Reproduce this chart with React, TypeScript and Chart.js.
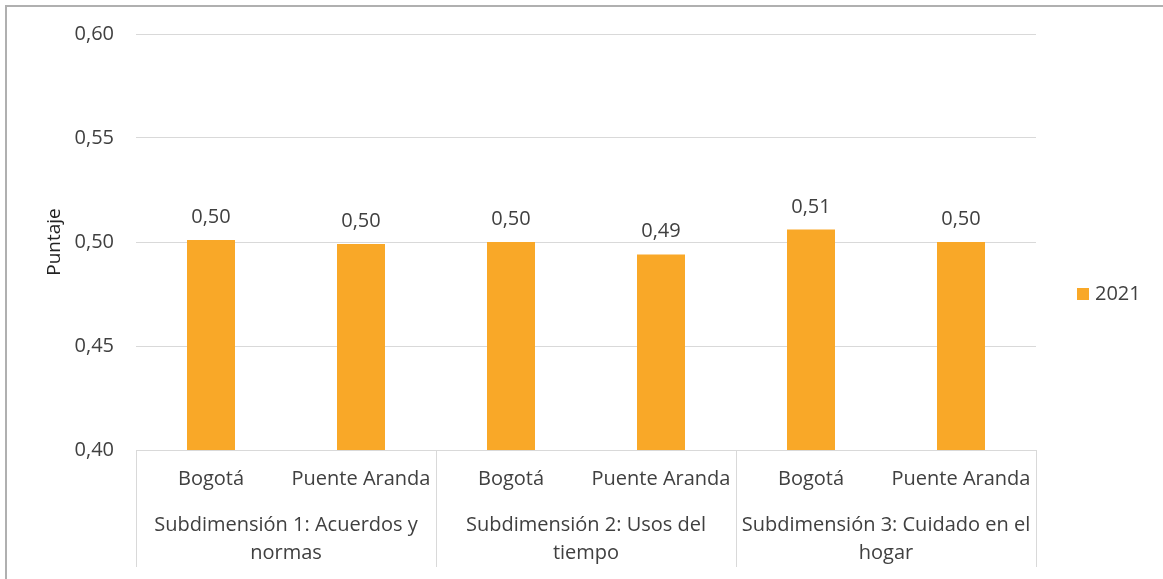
import React, { useEffect, useRef } from "react";
import { Chart, registerables } from "chart.js";

Chart.register(...registerables);

const categories = ["Bogotá", "Puente Aranda", "Bogotá", "Puente Aranda", "Bogotá", "Puente Aranda"];
const groups = [
  ["Subdimensión 1: Acuerdos y", "normas"],
  ["Subdimensión 2: Usos del", "tiempo"],
  ["Subdimensión 3: Cuidado en el", "hogar"],
];
const groupSize = 2;
const seriesLabel = "2021";
const values2021 = [0.501, 0.499, 0.5, 0.494, 0.506, 0.5];
const yTicks = [0.4, 0.45, 0.5, 0.55, 0.6];

const FONT = "'Open Sans', sans-serif";
const TEXT = "#404040";
const GRID = "#d9d9d9";
const BAR = "#F9A828";
const FS = 20;

const fmt = (v: number) => v.toFixed(2).replace(".", ",");

const customPlugin = {
  id: "custom",
  afterDatasetsDraw(chart: any) {
    const ctx = chart.ctx;
    const meta = chart.getDatasetMeta(0);
    ctx.save();
    ctx.font = `${FS}px ${FONT}`;
    ctx.fillStyle = TEXT;
    ctx.textAlign = "center";
    ctx.textBaseline = "alphabetic";
    meta.data.forEach((el: any, i: number) => {
      ctx.fillText(fmt(values2021[i]), el.x, el.y - 17);
    });
    ctx.restore();
  },
  afterDraw(chart: any) {
    const ctx = chart.ctx;
    const xs = chart.scales.x;
    const area = chart.chartArea;
    ctx.save();
    ctx.strokeStyle = GRID;
    ctx.lineWidth = 1;
    const bounds: number[] = [];
    for (let g = 0; g <= groups.length; g++) {
      const i = g * groupSize;
      let x: number;
      if (i === 0) x = xs.left;
      else if (i >= categories.length) x = xs.right;
      else x = (xs.getPixelForValue(i - 1) + xs.getPixelForValue(i)) / 2;
      bounds.push(x);
      const xx = Math.round(x) + 0.5;
      ctx.beginPath();
      ctx.moveTo(xx, area.bottom);
      ctx.lineTo(xx, 567);
      ctx.stroke();
    }
    ctx.font = `${FS}px ${FONT}`;
    ctx.fillStyle = TEXT;
    ctx.textAlign = "center";
    ctx.textBaseline = "middle";
    groups.forEach((lines, g) => {
      const cx = (bounds[g] + bounds[g + 1]) / 2;
      lines.forEach((ln, k) => {
        ctx.fillText(ln, cx, 525 + k * 28);
      });
    });
    const ds = chart.data.datasets[0];
    ctx.fillStyle = ds.backgroundColor;
    ctx.fillRect(1077, 288, 12, 12);
    ctx.fillStyle = TEXT;
    ctx.textAlign = "left";
    ctx.textBaseline = "middle";
    ctx.fillText(ds.label, 1095, 294);
    ctx.restore();
  },
};

export default function App() {
  const ref = useRef<HTMLCanvasElement>(null);
  useEffect(() => {
    const chart = new Chart(ref.current!, {
      type: "bar",
      data: {
        labels: categories,
        datasets: [
          {
            label: seriesLabel,
            data: values2021,
            backgroundColor: BAR,
            categoryPercentage: 1,
            barPercentage: 0.32,
          },
        ],
      },
      options: {
        animation: false,
        responsive: false,
        maintainAspectRatio: false,
        layout: { padding: { top: 34, right: 127, left: 0, bottom: 0 } },
        plugins: {
          legend: { display: false },
          tooltip: { enabled: false },
        },
        scales: {
          x: {
            grid: { display: false, drawTicks: false },
            border: { display: true, color: GRID },
            ticks: {
              autoSkip: false,
              maxRotation: 0,
              minRotation: 0,
              padding: 17,
              color: TEXT,
              font: { family: FONT, size: FS },
            },
            afterFit: (s: any) => {
              s.height = 129;
            },
          },
          y: {
            min: 0.4,
            max: 0.6,
            afterBuildTicks: (s: any) => {
              s.ticks = yTicks.map((v) => ({ value: v }));
            },
            grid: { color: GRID, drawTicks: false },
            border: { display: false },
            ticks: {
              padding: 22,
              color: TEXT,
              font: { family: FONT, size: FS },
              callback: (v: any) => fmt(Number(v)),
            },
            title: {
              display: true,
              text: "Puntaje",
              color: "#222",
              font: { family: FONT, size: 19 },
              padding: { top: 43, bottom: 0 },
            },
            afterFit: (s: any) => {
              s.width = 136;
            },
          },
        },
      },
      plugins: [customPlugin],
    });
    return () => chart.destroy();
  }, []);
  return (
    <div style={{ position: "fixed", left: 0, top: 0, width: 1163, height: 579, background: "#fff", overflow: "hidden" }}>
      <div
        style={{
          position: "absolute",
          left: 5,
          top: 5,
          width: 1200,
          height: 700,
          borderLeft: "2px solid #b0b0b0",
          borderTop: "2px solid #b0b0b0",
          boxSizing: "border-box",
        }}
      />
      <canvas ref={ref} width={1163} height={579} style={{ position: "absolute", left: 0, top: 0 }} />
    </div>
  );
}
